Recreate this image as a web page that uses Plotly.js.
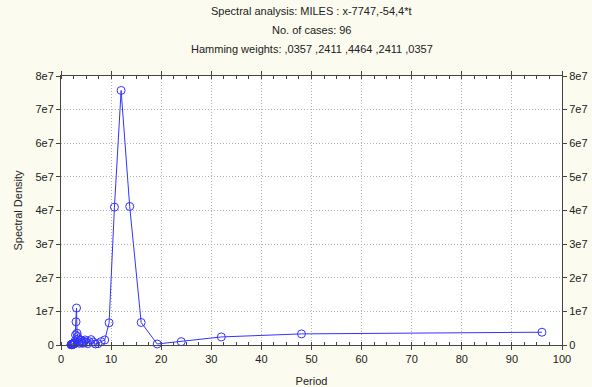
<!DOCTYPE html>
<html>
<head>
<meta charset="utf-8">
<script src="https://cdn.plot.ly/plotly-3.0.1.min.js"></script>
<style>html,body{margin:0;padding:0;background:#FBFBEF;}#chart{width:592px;height:387px;}</style>
</head>
<body>
<div id="chart"></div>
<script>
const titleLines = ["Spectral analysis: MILES : x-7747,-54,4*t", "No. of cases: 96", "Hamming weights: ,0357 ,2411 ,4464 ,2411 ,0357"];
const xTitle = "Period";
const yTitle = "Spectral Density";
const period = [96, 48, 32, 24, 19.2, 16, 13.714, 12, 10.667, 9.6, 8.727, 8, 7.385, 6.857, 6.4, 6, 5.647, 5.333, 5.053, 4.8, 4.571, 4.364, 4.174, 4, 3.84, 3.692, 3.556, 3.429, 3.31, 3.2, 3.097, 3, 2.909, 2.824, 2.743, 2.667, 2.595, 2.526, 2.462, 2.4, 2.341, 2.286, 2.233, 2.182, 2.133, 2.087, 2.043, 2];
const density = [3.8e6, 3.3e6, 2.4e6, 1.0e6, 0.3e6, 6.7e6, 4.12e7, 7.57e7, 4.1e7, 6.6e6, 1.5e6, 1.0e6, 0.4e6, 0.3e6, 0.9e6, 1.6e6, 1.0e6, 0.4e6, 0.8e6, 1.5e6, 1.1e6, 0.5e6, 0.7e6, 1.4e6, 1.2e6, 0.5e6, 0.9e6, 1.8e6, 2.5e6, 3.5e6, 1.1e7, 6.9e6, 3.0e6, 1.2e6, 0.6e6, 0.4e6, 0.3e6, 0.5e6, 0.3e6, 0.2e6, 0.3e6, 0.2e6, 0.1e6, 0.2e6, 0.1e6, 0.1e6, 0.1e6, 0.1e6];
const yTickVals = [0, 1e7, 2e7, 3e7, 4e7, 5e7, 6e7, 7e7, 8e7];
const yTickText = ["0", "1e7", "2e7", "3e7", "4e7", "5e7", "6e7", "7e7", "8e7"];
const xTickVals = [0, 10, 20, 30, 40, 50, 60, 70, 80, 90, 100];

const fam = "Liberation Sans, Arial, sans-serif";
const font = {family: fam, size: 11, color: "#222"};
const traces = [
  {x: period, y: density, type: "scatter", mode: "lines+markers",
   line: {color: "#3333FF", width: 1},
   marker: {symbol: "circle-open", size: 8, color: "#3333FF", line: {width: 1}},
   cliponaxis: false, hoverinfo: "x+y", showlegend: false},
  {x: period, y: density, type: "scatter", mode: "lines", yaxis: "y2",
   line: {color: "rgba(0,0,0,0)", width: 0}, hoverinfo: "skip", showlegend: false}
];
const gridCommon = {showgrid: true, gridcolor: "#B4B4B4", griddash: "1px,2px", gridwidth: 1,
  showline: true, linecolor: "#444", linewidth: 1, zeroline: false,
  ticks: "outside", ticklen: 4, tickcolor: "#444", tickfont: font};
const titleY = [11, 30, 49];
const annotations = titleLines.map((t, i) => ({
  text: t, xref: "paper", yref: "paper", x: 0.5, xanchor: "center",
  y: 1 + (76 - titleY[i]) / 269, yanchor: "middle", showarrow: false,
  font: {family: fam, size: 11, color: "#222"}
}));
const layout = {
  width: 592, height: 387,
  paper_bgcolor: "#FBFBEF", plot_bgcolor: "#FFFFFF",
  margin: {l: 61, r: 30, t: 76, b: 42},
  font: font,
  annotations: annotations,
  xaxis: Object.assign({}, gridCommon, {range: [0, 100], tickvals: xTickVals, mirror: "ticks",
    minor: {dtick: 2.5, ticks: "inside", ticklen: 3, tickcolor: "#444", showgrid: false},
    title: {text: xTitle, standoff: 14, font: font}}),
  yaxis: Object.assign({}, gridCommon, {range: [0, 8e7], tickvals: yTickVals, ticktext: yTickText,
    mirror: true, title: {text: yTitle, standoff: 10, font: font}}),
  yaxis2: {overlaying: "y", side: "right", range: [0, 8e7], tickvals: yTickVals, ticktext: yTickText,
    showgrid: false, zeroline: false, showline: true, linecolor: "#444", ticks: "outside", ticklen: 4,
    tickcolor: "#444", tickfont: font}
};
Plotly.newPlot("chart", traces, layout, {staticPlot: true});
</script>
</body>
</html>
